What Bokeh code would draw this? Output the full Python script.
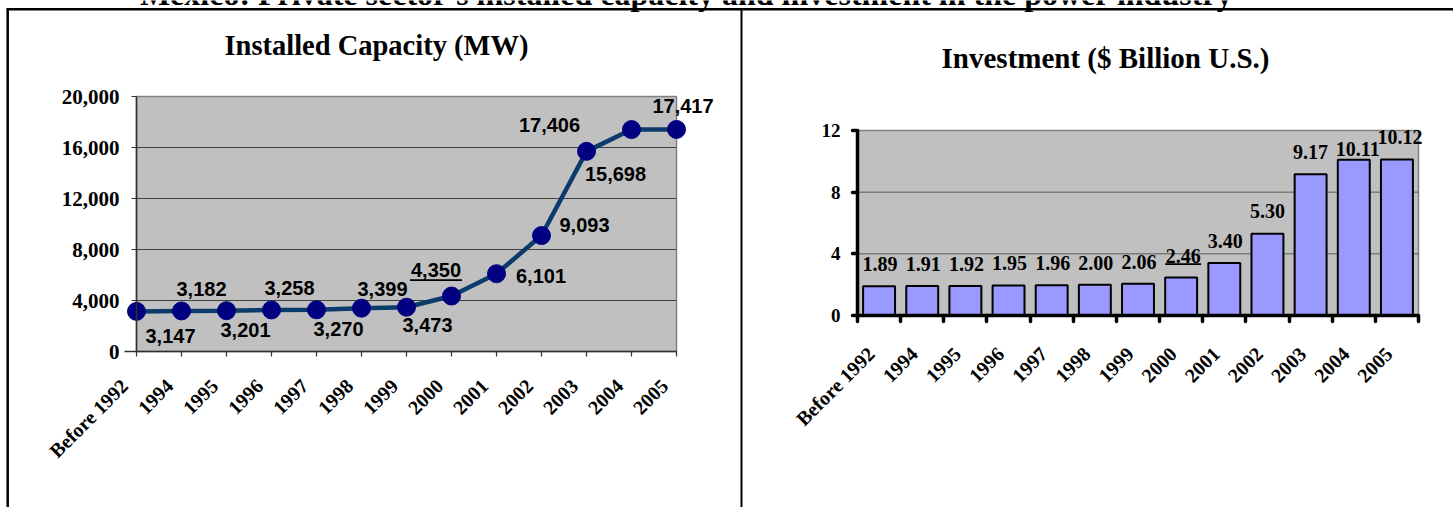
import math
from bokeh.plotting import figure
from bokeh.models import (Range1d, FixedTicker, NumeralTickFormatter, ColumnDataSource,
                          LabelSet, Label, LinearAxis)
from bokeh.core.properties import value
from bokeh.embed import file_html
from bokeh.resources import INLINE

# ---------------- data ----------------
page_title = "Mexico: Private sector's installed capacity and investment in the power industry"
categories = ["Before 1992", "1994", "1995", "1996", "1997", "1998", "1999",
              "2000", "2001", "2002", "2003", "2004", "2005"]

capacity_title = "Installed Capacity  (MW)"
capacity_mw = [3147, 3182, 3201, 3258, 3270, 3399, 3473, 4350, 6101, 9093, 15698, 17406, 17417]
capacity_ticks = [0, 4000, 8000, 12000, 16000, 20000]

investment_title = "Investment ($ Billion U.S.)"
investment_busd = [1.89, 1.91, 1.92, 1.95, 1.96, 2.00, 2.06, 2.46, 3.40, 5.30, 9.17, 10.11, 10.12]
investment_ticks = [0, 4, 8, 12]

underlined_category = "2000"

# ---------------- style / placement ----------------
SERIF = "Liberation Serif"
SANS = "Liberation Sans"
PAGE_W, PAGE_H = 1453, 507

# plot areas in page pixels
L_X0, L_X1, L_YT, L_YB = 136, 676, 96, 351
R_X0, R_X1, R_YT, R_YB = 857, 1418, 130, 315

# value-label offsets in pixels (dx right, dy up)
cap_dx = [34, 20, 19, 18, 22, 21, 21, -15.5, 44.5, 43, 29, -82, 6.5]
cap_dy = [-25, 22, -19, 22, -19, 19, -18, 26, -2, 11, -22.6, 4.6, 23]
inv_dx = [1, 1, 1, 1, 1, 1, 1, 2, 1, 0, 0, 4, 3]
inv_dy = [22, 22, 22, 22, 22, 22, 22, 22, 22, 23, 22.6, 11, 22]
# horizontal shift (px) of the rotated category labels
L_LABEL_SHIFT = -12
R_LABEL_SHIFT = -8

n = len(categories)


def xrange_for(d0, d1, p0, p1):
    k = (p1 - p0) / (d1 - d0)
    return Range1d(d0 - p0 / k, d1 + (PAGE_W - p1) / k), k


def yrange_for(d0, d1, p_bottom, p_top):
    k = (p_bottom - p_top) / (d1 - d0)
    return Range1d(d0 - (PAGE_H - p_bottom) / k, d1 + p_top / k), k


lxr, lkx = xrange_for(0, n - 1, L_X0, L_X1)
lyr, lky = yrange_for(capacity_ticks[0], capacity_ticks[-1], L_YB, L_YT)
rxr, rkx = xrange_for(0, n, R_X0, R_X1)
ryr, rky = yrange_for(investment_ticks[0], investment_ticks[-1], R_YB, R_YT)

p = figure(width=PAGE_W, height=PAGE_H, x_range=lxr, y_range=lyr,
           x_axis_type=None, y_axis_type=None, output_backend="svg",
           toolbar_location=None, min_border=0, outline_line_color=None,
           background_fill_color="white", border_fill_color="white")
p.title.visible = False
p.extra_x_ranges = {"r": rxr, "pg": Range1d(0, PAGE_W)}
p.extra_y_ranges = {"r": ryr, "pg": Range1d(PAGE_H, 0)}

# ---------------- page frame & title ----------------
p.segment(x0=[7.2], y0=[8.7], x1=[7.2], y1=[PAGE_H], x_range_name="pg", y_range_name="pg",
          line_color="black", line_width=2.5)
p.segment(x0=[6], y0=[8.7], x1=[PAGE_W], y1=[8.7], x_range_name="pg", y_range_name="pg",
          line_color="black", line_width=2.5)
p.segment(x0=[741], y0=[8.7], x1=[741], y1=[PAGE_H], x_range_name="pg", y_range_name="pg",
          line_color="black", line_width=2)
p.add_layout(Label(x=686, y=-6.5, text=page_title, x_range_name="pg", y_range_name="pg",
                   text_align="center", text_baseline="alphabetic", text_font=SERIF,
                   text_font_style="bold", text_font_size="32px", text_color="black"))

# ---------------- left chart: installed capacity ----------------
x1 = list(range(n))
p.quad(left=[0], right=[n - 1], bottom=[capacity_ticks[0]], top=[capacity_ticks[-1]],
       fill_color="#C0C0C0", line_color="#808080", line_width=1.5)
inner = capacity_ticks[1:-1]
p.segment(x0=[0] * len(inner), x1=[n - 1] * len(inner), y0=inner, y1=inner,
          line_color="#404040", line_width=1)

lab_x1 = [i + L_LABEL_SHIFT / lkx for i in x1]
ax_lx = LinearAxis(ticker=FixedTicker(ticks=lab_x1, minor_ticks=x1),
                   fixed_location=capacity_ticks[0], bounds=(lab_x1[0], n - 1))
ax_lx.major_label_overrides = {t: c for t, c in zip(lab_x1, categories)}
ax_lx.major_label_orientation = math.pi / 4
ax_ly = LinearAxis(ticker=FixedTicker(ticks=capacity_ticks), fixed_location=0,
                   bounds=(capacity_ticks[0], capacity_ticks[-1]),
                   formatter=NumeralTickFormatter(format="0,0"))
for ax in (ax_lx, ax_ly):
    ax.axis_line_color = "#303030"
    ax.axis_line_width = 1.5
    ax.major_tick_line_color = "#303030"
    ax.major_tick_line_width = 1.2
    ax.major_tick_in = 0
    ax.major_tick_out = 5
    ax.minor_tick_line_color = None
    ax.major_label_text_font = SERIF
    ax.major_label_text_font_style = "bold"
    ax.major_label_text_color = "black"
ax_lx.major_tick_line_color = None
ax_lx.minor_tick_line_color = "#303030"
ax_lx.minor_tick_line_width = 1.2
ax_lx.minor_tick_in = 0
ax_lx.minor_tick_out = 5
ax_lx.major_label_text_font_size = "20px"
ax_ly.major_label_text_font_size = "21px"
ax_lx.major_label_standoff = 26
ax_ly.major_label_standoff = 12
p.add_layout(ax_lx, "below")
p.add_layout(ax_ly, "left")

p.line(x1, capacity_mw, line_color="#0B3B6B", line_width=4.5)
p.scatter(x1, capacity_mw, size=18, fill_color="#000080", line_color="#000080")

src1 = ColumnDataSource(dict(x=x1, y=capacity_mw, text=[f"{v:,}" for v in capacity_mw],
                             dx=cap_dx, dy=cap_dy))
p.add_layout(LabelSet(x="x", y="y", text="text", x_offset="dx", y_offset="dy", source=src1,
                      text_align="center", text_baseline="middle", text_font=value(SANS),
                      text_font_style="bold", text_font_size="20px", text_color="black"))

ku = categories.index(underlined_category)
ux = ku + cap_dx[ku] / lkx
uy = capacity_mw[ku] + (cap_dy[ku] - 10) / lky
p.segment(x0=[ux - 26 / lkx], y0=[uy], x1=[ux + 26 / lkx], y1=[uy],
          line_color="black", line_width=1.8)

p.add_layout(Label(x=379.5, y=44.6, text=capacity_title, x_range_name="pg", y_range_name="pg",
                   text_align="center", text_baseline="alphabetic", text_font=SERIF,
                   text_font_style="bold", text_font_size="28.5px", text_color="black"))

# ---------------- right chart: investment ----------------
xc = [i + 0.5 for i in range(n)]
p.quad(left=[0], right=[n], bottom=[investment_ticks[0]], top=[investment_ticks[-1]],
       x_range_name="r", y_range_name="r",
       fill_color="#C0C0C0", line_color="#808080", line_width=1.5)
inner2 = investment_ticks[1:-1]
p.segment(x0=[0] * len(inner2), x1=[n] * len(inner2), y0=inner2, y1=inner2,
          x_range_name="r", y_range_name="r", line_color="#5A5A5A", line_width=1)

p.vbar(x=xc, top=investment_busd, bottom=0, width=0.74, x_range_name="r", y_range_name="r",
       fill_color="#9999FF", line_color="black", line_width=2)

lab_xc = [x + R_LABEL_SHIFT / rkx for x in xc]
ax_rx = LinearAxis(x_range_name="r", y_range_name="r",
                   ticker=FixedTicker(ticks=lab_xc, minor_ticks=list(range(n + 1))),
                   fixed_location=investment_ticks[0], bounds=(0, n))
ax_rx.major_label_overrides = {t: c for t, c in zip(lab_xc, categories)}
ax_rx.major_label_orientation = math.pi / 4
ax_ry = LinearAxis(x_range_name="r", y_range_name="r",
                   ticker=FixedTicker(ticks=investment_ticks), fixed_location=0,
                   bounds=(investment_ticks[0], investment_ticks[-1]))
for ax in (ax_rx, ax_ry):
    ax.axis_line_color = "black"
    ax.axis_line_width = 3.5
    ax.major_tick_in = 0
    ax.major_tick_out = 5
    ax.major_tick_line_width = 3.5
    ax.major_tick_line_color = "black"
    ax.major_tick_line_cap = "round"
    ax.major_label_text_font = SERIF
    ax.major_label_text_font_style = "bold"
    ax.major_label_text_color = "black"
ax_rx.major_tick_line_color = None
ax_rx.minor_tick_in = 0
ax_rx.minor_tick_out = 6
ax_rx.minor_tick_line_width = 3.5
ax_rx.minor_tick_line_color = "black"
ax_rx.minor_tick_line_cap = "round"
ax_ry.minor_tick_line_color = None
ax_rx.major_label_text_font_size = "20px"
ax_ry.major_label_text_font_size = "19px"
ax_rx.major_label_standoff = 29
ax_ry.major_label_standoff = 12
p.add_layout(ax_rx, "below")
p.add_layout(ax_ry, "left")

src2 = ColumnDataSource(dict(x=xc, y=investment_busd,
                             text=[f"{v:.2f}" for v in investment_busd],
                             dx=inv_dx, dy=inv_dy))
p.add_layout(LabelSet(x="x", y="y", text="text", x_offset="dx", y_offset="dy", source=src2,
                      x_range_name="r", y_range_name="r",
                      text_align="center", text_baseline="middle", text_font=value(SERIF),
                      text_font_style="bold", text_font_size="20px", text_color="black"))

ux2 = xc[ku] + inv_dx[ku] / rkx
uy2 = investment_busd[ku] + (inv_dy[ku] - 8.5) / rky
p.segment(x0=[ux2 - 18 / rkx], y0=[uy2], x1=[ux2 + 18 / rkx], y1=[uy2],
          x_range_name="r", y_range_name="r", line_color="black", line_width=1.8)

p.add_layout(Label(x=1105, y=57, text=investment_title, x_range_name="pg", y_range_name="pg",
                   text_align="center", text_baseline="alphabetic", text_font=SERIF,
                   text_font_style="bold", text_font_size="29px", text_color="black"))

open("out.html", "w").write(file_html(p, INLINE))
